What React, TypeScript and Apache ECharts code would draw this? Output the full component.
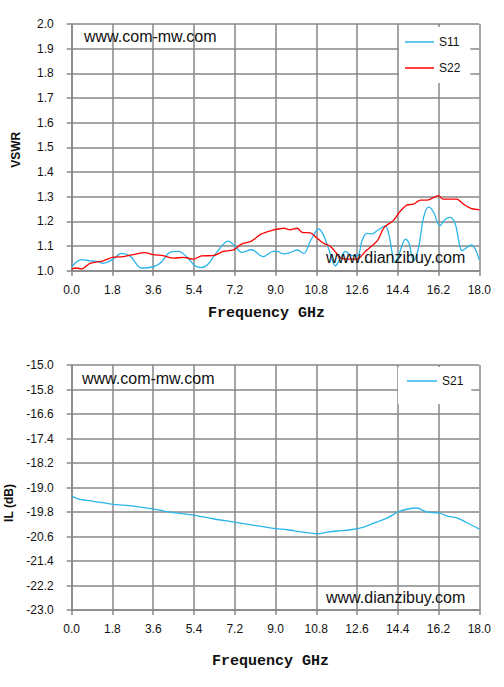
import React, { useEffect, useRef } from "react";
import * as echarts from "echarts";

// ---- Data ----
const s11Freq = [0.0, 0.44, 0.81, 1.1, 1.4, 1.79, 2.21, 2.57, 3.09, 3.6, 3.9, 4.34, 4.71, 5.07, 5.44, 5.74, 6.03, 6.4, 6.91, 7.21, 7.5, 7.94, 8.46, 8.9, 9.07, 9.37, 9.66, 9.96, 10.25, 10.54, 10.91, 11.13, 11.35, 11.65, 11.87, 12.09, 12.38, 12.63, 12.82, 13.04, 13.26, 13.49, 13.85, 14.0, 14.29, 14.51, 14.74, 14.88, 15.1, 15.32, 15.54, 15.76, 15.99, 16.25, 16.5, 16.72, 16.94, 17.24, 17.46, 17.65, 17.82, 18.0];
const s11Vswr = [1.016, 1.045, 1.04, 1.038, 1.03, 1.045, 1.07, 1.06, 1.011, 1.016, 1.03, 1.074, 1.078, 1.057, 1.02, 1.013, 1.027, 1.074, 1.12, 1.1, 1.074, 1.085, 1.057, 1.078, 1.078, 1.068, 1.074, 1.084, 1.07, 1.12, 1.169, 1.142, 1.088, 1.02, 1.051, 1.078, 1.061, 1.061, 1.122, 1.151, 1.149, 1.162, 1.182, 1.149, 1.034, 1.081, 1.128, 1.115, 1.04, 1.095, 1.216, 1.259, 1.236, 1.182, 1.209, 1.216, 1.189, 1.081, 1.095, 1.105, 1.088, 1.043];

const s22Freq = [0.0, 0.22, 0.44, 0.81, 1.4, 1.79, 2.28, 2.72, 3.24, 3.6, 4.04, 4.49, 4.93, 5.37, 5.74, 6.25, 6.69, 7.13, 7.5, 7.94, 8.38, 8.9, 9.2, 9.37, 9.66, 9.96, 10.18, 10.54, 10.8, 11.1, 11.4, 11.7, 11.9, 12.3, 12.6, 13.0, 13.5, 13.8, 14.2, 14.5, 14.8, 15.1, 15.4, 15.7, 15.9, 16.2, 16.4, 16.7, 17.0, 17.3, 17.6, 18.0];
const s22Vswr = [1.007, 1.011, 1.007, 1.03, 1.04, 1.054, 1.057, 1.065, 1.073, 1.065, 1.061, 1.051, 1.054, 1.047, 1.06, 1.061, 1.078, 1.084, 1.108, 1.12, 1.149, 1.165, 1.17, 1.172, 1.166, 1.172, 1.155, 1.153, 1.135, 1.112, 1.1, 1.07, 1.051, 1.047, 1.047, 1.081, 1.122, 1.176, 1.203, 1.24, 1.266, 1.27, 1.286, 1.286, 1.293, 1.304, 1.29, 1.29, 1.29, 1.27, 1.254, 1.247];

const s21Freq = [0.0, 0.37, 0.96, 1.76, 2.72, 3.57, 4.49, 5.37, 6.25, 7.18, 8.01, 9.0, 9.51, 10.25, 10.84, 11.28, 11.72, 12.31, 12.9, 13.34, 13.93, 14.4, 14.8, 15.24, 15.68, 16.2, 16.64, 17.0, 17.45, 18.0];
const s21IL = [-19.28, -19.39, -19.45, -19.54, -19.61, -19.7, -19.82, -19.9, -20.02, -20.13, -20.23, -20.34, -20.38, -20.46, -20.51, -20.46, -20.42, -20.38, -20.29, -20.16, -20.0, -19.8, -19.71, -19.67, -19.8, -19.83, -19.94, -19.99, -20.15, -20.36];

// Axis ranges / tick steps
const FREQ_MIN = 0;
const FREQ_MAX = 18;
const FREQ_STEP = 1.8;
const VSWR_MIN = 1.0;
const VSWR_MAX = 2.0;
const VSWR_STEP = 0.1;
const IL_MIN = -23.0;
const IL_MAX = -15.0;
const IL_STEP = 0.8;

const BLUE = "#2bb5ea";
const RED = "#ff0000";
const GRID = "#878787";
const TEXT = "#111111";
const SANS = "Liberation Sans";

const pairs = (xs: number[], ys: number[], off = 0) => xs.map((x, i) => [x, ys[i] - off]);

export default function App() {
  const ref = useRef<HTMLDivElement>(null);

  useEffect(() => {
    if (!ref.current) return;
    const chart = echarts.init(ref.current, undefined, { renderer: "svg" });

    const xAxisBase = (gridIndex: number, nameGap: number, padRight: number) => ({
      type: "value",
      gridIndex,
      min: FREQ_MIN,
      max: FREQ_MAX,
      interval: FREQ_STEP,
      axisLine: { show: true, onZero: false, lineStyle: { color: GRID, width: 1.5 } },
      axisTick: { show: true, length: 5, lineStyle: { color: GRID, width: 1.5 } },
      axisLabel: {
        formatter: (v: number) => v.toFixed(1),
        margin: 13,
        color: TEXT,
        fontFamily: SANS,
        fontSize: 12,
      },
      splitLine: { show: true, lineStyle: { color: GRID, width: 1.5 } },
      name: "Frequency GHz",
      nameLocation: "middle",
      nameGap,
      nameTextStyle: {
        fontFamily: "Liberation Mono",
        fontWeight: "bold",
        fontSize: 15,
        color: TEXT,
        padding: [0, padRight, 0, 0],
      },
    });

    const yAxisCommon = {
      type: "value",
      axisLine: { show: true, lineStyle: { color: GRID, width: 1.5 } },
      axisTick: { show: true, length: 5, lineStyle: { color: GRID, width: 1.5 } },
      splitLine: { show: true, lineStyle: { color: GRID, width: 1.5 } },
      nameLocation: "middle",
      nameGap: 50,
    };

    const legendCommon = {
      orient: "vertical",
      icon: "rect",
      itemWidth: 29,
      itemHeight: 1.5,
      backgroundColor: "#ffffff",
      textStyle: { fontFamily: SANS, fontSize: 12, color: TEXT, lineHeight: 12 },
    };

    const option: any = {
      animation: false,
      backgroundColor: "#ffffff",
      grid: [
        { left: 71.7, top: 24, width: 407.6, height: 246.7, outerBoundsMode: "none", containLabel: false },
        { left: 71.7, top: 365, width: 407.6, height: 245, outerBoundsMode: "none", containLabel: false },
      ],
      xAxis: [xAxisBase(0, 35, 18), xAxisBase(1, 44, 10)],
      yAxis: [
        {
          ...yAxisCommon,
          gridIndex: 0,
          min: VSWR_MIN,
          max: VSWR_MAX,
          interval: VSWR_STEP,
          axisLabel: {
            formatter: (v: number) => v.toFixed(1),
            margin: 18,
            color: TEXT,
            fontFamily: SANS,
            fontSize: 12,
          },
          name: "VSWR",
          nameTextStyle: {
            fontFamily: SANS,
            fontWeight: "bold",
            fontSize: 12,
            color: TEXT,
            padding: [0, 5, 0, 0],
          },
        },
        {
          ...yAxisCommon,
          gridIndex: 1,
          // axis counts from 0 (= IL_MIN) so ticks fall on IL_MIN + k*IL_STEP
          min: 0,
          max: IL_MAX - IL_MIN,
          interval: IL_STEP,
          axisLabel: {
            formatter: (v: number) => (v + IL_MIN).toFixed(1),
            margin: 18,
            color: TEXT,
            fontFamily: SANS,
            fontSize: 12,
          },
          name: "IL (dB)",
          nameTextStyle: {
            fontFamily: SANS,
            fontWeight: "bold",
            fontSize: 12,
            color: TEXT,
            padding: [0, 31, 0, 0],
          },
        },
      ],
      legend: [
        {
          ...legendCommon,
          data: ["S11", "S22"],
          left: 399,
          top: 27,
          padding: [9, 10, 9, 6],
          itemGap: 14,
        },
        {
          ...legendCommon,
          data: ["S21"],
          left: 398,
          top: 367,
          padding: [8, 8, 17, 9],
          itemWidth: 30,
        },
      ],
      graphic: [
        { type: "text", x: 84, y: 36, z: 10, style: { text: "www.com-mw.com", fill: TEXT, font: `16px ${SANS}`, align: "left", verticalAlign: "middle" } },
        { type: "text", x: 326, y: 257, z: 10, style: { text: "www.dianzibuy.com", fill: TEXT, font: `16px ${SANS}`, align: "left", verticalAlign: "middle" } },
        { type: "text", x: 82, y: 378, z: 10, style: { text: "www.com-mw.com", fill: TEXT, font: `16px ${SANS}`, align: "left", verticalAlign: "middle" } },
        { type: "text", x: 326, y: 597, z: 10, style: { text: "www.dianzibuy.com", fill: TEXT, font: `16px ${SANS}`, align: "left", verticalAlign: "middle" } },
      ],
      series: [
        {
          name: "S11",
          type: "line",
          xAxisIndex: 0,
          yAxisIndex: 0,
          data: pairs(s11Freq, s11Vswr),
          smooth: 0.35,
          symbol: "none",
          lineStyle: { color: BLUE, width: 1.3 },
          itemStyle: { color: BLUE },
        },
        {
          name: "S22",
          type: "line",
          xAxisIndex: 0,
          yAxisIndex: 0,
          data: pairs(s22Freq, s22Vswr),
          smooth: 0.3,
          symbol: "none",
          lineStyle: { color: RED, width: 1.3 },
          itemStyle: { color: RED },
        },
        {
          name: "S21",
          type: "line",
          xAxisIndex: 1,
          yAxisIndex: 1,
          data: pairs(s21Freq, s21IL, IL_MIN),
          smooth: 0.3,
          symbol: "none",
          lineStyle: { color: BLUE, width: 1.3 },
          itemStyle: { color: BLUE },
        },
      ],
    };

    chart.setOption(option);
    return () => chart.dispose();
  }, []);

  return (
    <div
      ref={ref}
      style={{ position: "fixed", left: 0, top: 0, width: 504, height: 687, background: "#fff" }}
    />
  );
}
